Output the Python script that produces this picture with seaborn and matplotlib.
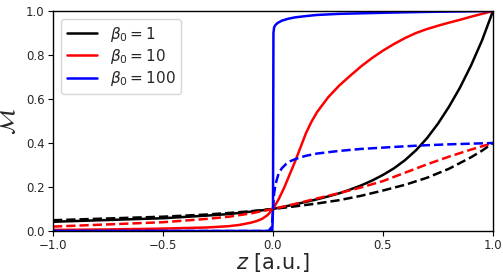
import numpy as np
import pandas as pd
import matplotlib
matplotlib.use("Agg")
import matplotlib.pyplot as plt
import seaborn as sns

# --- values ---
# beta0 = 1
z_b1 = [-1.0, -0.75, -0.5, -0.3, -0.2, -0.1, 0.0, 0.1, 0.2, 0.25, 0.3, 0.35, 0.4, 0.45,
        0.5, 0.55, 0.6, 0.65, 0.7, 0.75, 0.8, 0.85, 0.9, 0.95, 1.0]
m_b1 = [0.042, 0.050, 0.058, 0.070, 0.077, 0.088, 0.100, 0.121, 0.144, 0.157, 0.171, 0.188,
        0.207, 0.229, 0.255, 0.285, 0.322, 0.367, 0.422, 0.488, 0.565, 0.652, 0.752, 0.866, 1.000]
z_b1_dash = [-1.0, -0.75, -0.5, -0.3, -0.2, -0.1, 0.0, 0.1, 0.2, 0.3, 0.4, 0.5, 0.6, 0.7,
             0.8, 0.9, 0.95, 1.0]
m_b1_dash = [0.049, 0.057, 0.065, 0.075, 0.082, 0.090, 0.100, 0.112, 0.125, 0.140, 0.160, 0.184,
             0.210, 0.242, 0.283, 0.335, 0.365, 0.400]

# beta0 = 10
z_b10 = [-1.0, -0.75, -0.5, -0.3, -0.2, -0.15, -0.1, -0.075, -0.05, -0.025, 0.0, 0.025, 0.05,
         0.075, 0.1, 0.125, 0.15, 0.175, 0.2, 0.25, 0.3, 0.35, 0.4, 0.45, 0.5, 0.55, 0.6,
         0.65, 0.7, 0.75, 0.8, 0.85, 0.9, 0.95, 1.0]
m_b10 = [0.005, 0.007, 0.011, 0.016, 0.022, 0.028, 0.038, 0.045, 0.055, 0.072, 0.100, 0.143,
         0.195, 0.255, 0.315, 0.380, 0.445, 0.497, 0.540, 0.607, 0.660, 0.705, 0.748, 0.786,
         0.820, 0.850, 0.877, 0.900, 0.918, 0.933, 0.947, 0.960, 0.974, 0.987, 1.000]
z_b10_dash = [-1.0, -0.75, -0.5, -0.3, -0.2, -0.1, 0.0, 0.1, 0.2, 0.3, 0.4, 0.5, 0.6, 0.7,
              0.8, 0.9, 1.0]
m_b10_dash = [0.020, 0.030, 0.040, 0.055, 0.065, 0.080, 0.100, 0.123, 0.148, 0.172, 0.198, 0.227,
              0.265, 0.303, 0.338, 0.370, 0.400]

# beta0 = 100
z_b100 = [-1.0, -0.5, -0.01, -0.003, 0.0, 0.002, 0.005, 0.01, 0.02, 0.04, 0.07, 0.1, 0.15,
          0.2, 0.3, 0.5, 0.7, 1.0]
m_b100 = [0.0, 0.0, 0.0, 0.002, 0.100, 0.900, 0.925, 0.935, 0.945, 0.956, 0.965, 0.971, 0.977,
          0.982, 0.987, 0.992, 0.996, 1.000]
z_b100_dash = [-1.0, -0.5, -0.02, -0.005, 0.0, 0.005, 0.01, 0.015, 0.025, 0.04, 0.06, 0.08,
               0.11, 0.15, 0.2, 0.3, 0.4, 0.5, 0.6, 0.7, 0.8, 0.9, 1.0]
m_b100_dash = [0.0, 0.0, 0.0, 0.02, 0.100, 0.170, 0.205, 0.225, 0.260, 0.285, 0.305, 0.318,
               0.330, 0.342, 0.352, 0.364, 0.373, 0.379, 0.385, 0.390, 0.394, 0.397, 0.400]

labels = [r"$\beta_0 = 1$", r"$\beta_0 = 10$", r"$\beta_0 = 100$"]
colors = ["black", "red", "blue"]

sns.set_style("ticks")
plt.rcParams['font.family'] = ['DejaVu Sans']
plt.rcParams['mathtext.fontset'] = 'dejavusans'

fig = plt.figure(figsize=(5.03, 2.74), dpi=100)
ax = fig.add_axes([53 / 503, 43 / 274, 440 / 503, 220 / 274])

solid = [(z_b1, m_b1), (z_b10, m_b10), (z_b100, m_b100)]
dashed = [(z_b1_dash, m_b1_dash), (z_b10_dash, m_b10_dash), (z_b100_dash, m_b100_dash)]

for (zs, ms), lab, c in zip(solid, labels, colors):
    sns.lineplot(x=zs, y=ms, color=c, lw=1.8, label=lab, ax=ax, sort=False)
for (zs, ms), c in zip(dashed, colors):
    sns.lineplot(x=zs, y=ms, color=c, lw=1.8, linestyle="--", ax=ax, sort=False)

ax.set_xlim(-1, 1)
ax.set_ylim(0, 1)
ax.set_xticks([-1.0, -0.5, 0.0, 0.5, 1.0])
ax.set_yticks([0.0, 0.2, 0.4, 0.6, 0.8, 1.0])
ax.tick_params(labelsize=8.5, direction="out", length=3.5, width=0.8, color="black", pad=2.5)
for s in ax.spines.values():
    s.set_color("black")
    s.set_linewidth(1.0)

ax.set_xlabel(r"$z$ [a.u.]", fontsize=15)
ax.set_ylabel(r"$\mathcal{M}$", fontsize=16)
ax.xaxis.set_label_coords(0.5, -0.09)
ax.yaxis.set_label_coords(-0.077, 0.5)

ax.legend(loc="upper left", fontsize=11, frameon=True, handlelength=2.0, labelspacing=0.2)

fig.savefig("out.png", dpi=100)
